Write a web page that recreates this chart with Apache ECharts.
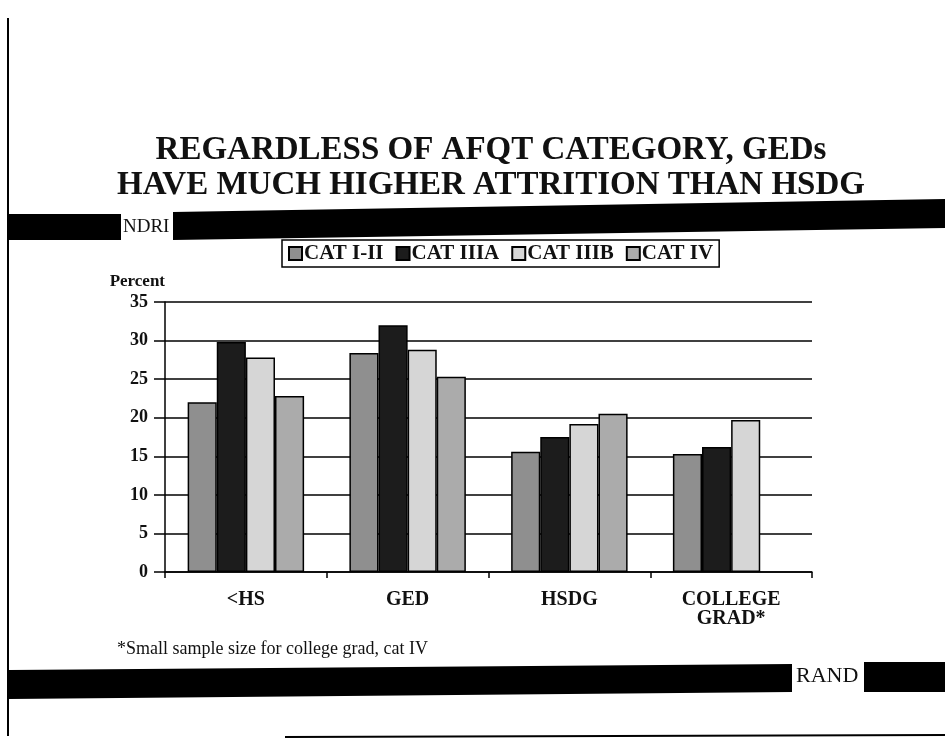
<!DOCTYPE html>
<html>
<head>
<meta charset="utf-8">
<title>Attrition by AFQT category</title>
<script src="https://cdn.jsdelivr.net/npm/echarts@6/dist/echarts.min.js"></script>
<style>
  html, body { margin: 0; padding: 0; background: #fff; }
  #chart { width: 945px; height: 740px; }
</style>
</head>
<body>
<div id="chart"></div>
<script>
// education groups on the x axis
var categories = ['<HS', 'GED', 'HSDG', 'COLLEGE\nGRAD*']
var seriesNames = ['CAT I-II', 'CAT IIIA', 'CAT IIIB', 'CAT IV']
// attrition, percent
var catI_II = [22.0, 28.4, 15.6, 15.3]
var catIIIA = [29.8, 32.0, 17.5, 16.2]
var catIIIB = [27.8, 28.8, 19.2, 19.7]
var catIV = [22.8, 25.3, 20.5, null] // small sample for college grad
var yTicks = { min: 0, max: 35, interval: 5 }

var serif = '"Liberation Serif", "DejaVu Serif", serif'
var fills = ['#8f8f8f', '#1c1c1c', '#d6d6d6', '#ababab']

var chart = echarts.init(document.getElementById('chart'))

function barSeries (name, data, i) {
  return {
    name: name,
    type: 'bar',
    data: data,
    barGap: '0%',
    barCategoryGap: '28%',
    itemStyle: {
      color: fills[i],
      borderColor: '#000',
      borderWidth: 1.5
    }
  }
}

chart.setOption({
  backgroundColor: '#fff',
  animation: false,
  title: {
    text: 'REGARDLESS OF AFQT CATEGORY, GEDs\nHAVE MUCH HIGHER ATTRITION THAN HSDG',
    left: 486,
    top: 128,
    textAlign: 'center',
    textStyle: {
      fontFamily: serif,
      fontWeight: 'bold',
      fontSize: 33,
      lineHeight: 35,
      color: '#111'
    }
  },
  legend: {
    data: seriesNames,
    left: 282,
    top: 240,
    padding: [3, 6, 3, 6],
    itemGap: 12,
    itemWidth: 13,
    itemHeight: 13,
    icon: 'rect',
    borderColor: '#000',
    borderWidth: 1.5,
    textStyle: {
      fontFamily: serif,
      fontWeight: 'bold',
      fontSize: 21,
      color: '#111',
      padding: [0, 0, 0, -3]
    }
  },
  grid: {
    left: 165,
    right: 133,
    top: 302,
    bottom: 168
  },
  xAxis: {
    type: 'category',
    data: categories,
    axisLine: { lineStyle: { color: '#000', width: 1.5 } },
    axisTick: { show: true, length: 6, lineStyle: { color: '#000', width: 1.5 } },
    axisLabel: {
      margin: 18,
      fontFamily: serif,
      fontWeight: 'bold',
      fontSize: 20,
      lineHeight: 19,
      color: '#111'
    }
  },
  yAxis: {
    type: 'value',
    min: yTicks.min,
    max: yTicks.max,
    interval: yTicks.interval,
    name: 'Percent',
    nameLocation: 'end',
    nameGap: 12,
    nameTextStyle: {
      align: 'right',
      fontFamily: serif,
      fontWeight: 'bold',
      fontSize: 17,
      color: '#111'
    },
    axisLine: { show: true, lineStyle: { color: '#000', width: 1.5 } },
    axisTick: { show: true, length: 11, lineStyle: { color: '#000', width: 1.5 } },
    axisLabel: {
      margin: 17,
      fontFamily: serif,
      fontWeight: 'bold',
      fontSize: 18,
      color: '#111'
    },
    splitLine: { lineStyle: { color: '#000', width: 1.5 } }
  },
  series: [
    barSeries(seriesNames[0], catI_II, 0),
    barSeries(seriesNames[1], catIIIA, 1),
    barSeries(seriesNames[2], catIIIB, 2),
    barSeries(seriesNames[3], catIV, 3)
  ],
  graphic: [
    // page frame
    { type: 'line', shape: { x1: 8, y1: 18, x2: 8, y2: 736 }, style: { stroke: '#000', lineWidth: 2 } },
    { type: 'line', shape: { x1: 285, y1: 737, x2: 945, y2: 735 }, style: { stroke: '#000', lineWidth: 2 } },
    // NDRI band
    { type: 'rect', shape: { x: 9, y: 214, width: 112, height: 26 }, style: { fill: '#000' } },
    {
      type: 'text', left: 123, top: 218,
      style: { text: 'NDRI', font: '19px ' + serif, fill: '#111' }
    },
    { type: 'polygon', shape: { points: [[173, 212], [945, 199], [945, 228], [173, 240]] }, style: { fill: '#000' } },
    // footnote
    {
      type: 'text', left: 117, top: 640,
      style: { text: '*Small sample size for college grad, cat IV', font: '18px ' + serif, fill: '#111' }
    },
    // RAND band
    { type: 'polygon', shape: { points: [[9, 670], [792, 664], [792, 692], [9, 699]] }, style: { fill: '#000' } },
    {
      type: 'text', left: 796, top: 665,
      style: { text: 'RAND', font: '22px ' + serif, fill: '#111' }
    },
    { type: 'rect', shape: { x: 864, y: 662, width: 81, height: 30 }, style: { fill: '#000' } }
  ]
})
</script>
</body>
</html>
